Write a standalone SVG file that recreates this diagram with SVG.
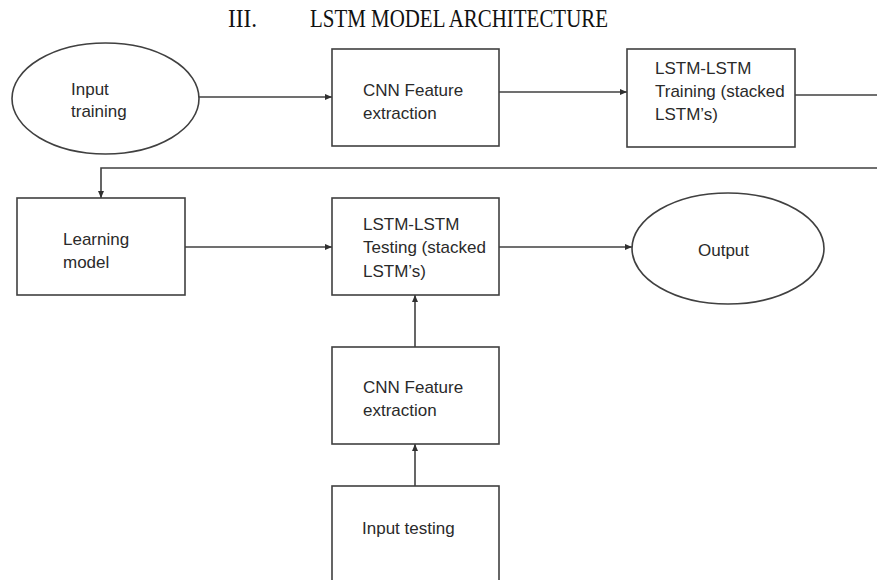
<svg xmlns="http://www.w3.org/2000/svg" width="877" height="580" viewBox="0 0 877 580">
<style>
.shape{fill:#fff;stroke:#404040;stroke-width:1.6}
.lbl{font-family:"Liberation Sans",Arial,sans-serif;font-size:17px;fill:#2a2a2a}
.title{font-family:"Liberation Serif","Times New Roman",serif;font-size:25px;fill:#111}
.conn{fill:none;stroke:#404040;stroke-width:1.6}
</style>
<defs>
<marker id="arr" markerWidth="8" markerHeight="8" refX="7" refY="4" orient="auto" markerUnits="userSpaceOnUse">
<path d="M0,1 L7,4 L0,7 Z" fill="#303030"/>
</marker>
</defs>
<rect width="877" height="580" fill="#fff"/>
<g id="title">
<text class="title" x="228" y="27" textLength="29" lengthAdjust="spacingAndGlyphs">III.</text>
<text class="title" x="310" y="27" textLength="298" lengthAdjust="spacingAndGlyphs">LSTM MODEL ARCHITECTURE</text>
</g>
<g id="connectors">
<line class="conn" x1="199" y1="97" x2="332" y2="97" marker-end="url(#arr)"/>
<line class="conn" x1="499" y1="92" x2="627" y2="92" marker-end="url(#arr)"/>
<line class="conn" x1="795" y1="95" x2="877" y2="95"/>
<polyline class="conn" points="877,168 101,168 101,198" marker-end="url(#arr)"/>
<line class="conn" x1="185" y1="247" x2="332" y2="247" marker-end="url(#arr)"/>
<line class="conn" x1="499" y1="247" x2="632" y2="247" marker-end="url(#arr)"/>
<line class="conn" x1="415" y1="347" x2="415" y2="295" marker-end="url(#arr)"/>
<line class="conn" x1="415" y1="486" x2="415" y2="444" marker-end="url(#arr)"/>
</g>
<g id="input-training">
<ellipse class="shape" cx="105.5" cy="98.5" rx="93.5" ry="55.5"/>
<text class="lbl" x="71" y="95">Input</text>
<text class="lbl" x="71" y="117">training</text>
</g>
<g id="cnn-train">
<rect class="shape" x="332" y="49" width="167" height="97"/>
<text class="lbl" x="363" y="96">CNN Feature</text>
<text class="lbl" x="363" y="119">extraction</text>
</g>
<g id="lstm-train">
<rect class="shape" x="627" y="49" width="168" height="98"/>
<text class="lbl" x="655" y="74">LSTM-LSTM</text>
<text class="lbl" x="655" y="97">Training (stacked</text>
<text class="lbl" x="655" y="120">LSTM’s)</text>
</g>
<g id="learning-model">
<rect class="shape" x="17" y="198" width="168" height="97"/>
<text class="lbl" x="63" y="245">Learning</text>
<text class="lbl" x="63" y="268">model</text>
</g>
<g id="lstm-test">
<rect class="shape" x="332" y="198" width="167" height="97"/>
<text class="lbl" x="363" y="230">LSTM-LSTM</text>
<text class="lbl" x="363" y="253">Testing (stacked</text>
<text class="lbl" x="363" y="277">LSTM’s)</text>
</g>
<g id="output">
<ellipse class="shape" cx="728" cy="248.5" rx="96" ry="55.5"/>
<text class="lbl" x="698" y="256">Output</text>
</g>
<g id="cnn-test">
<rect class="shape" x="332" y="347" width="167" height="97"/>
<text class="lbl" x="363" y="393">CNN Feature</text>
<text class="lbl" x="363" y="416">extraction</text>
</g>
<g id="input-testing">
<rect class="shape" x="332" y="486" width="167" height="110"/>
<text class="lbl" x="362" y="534">Input testing</text>
</g>
</svg>
